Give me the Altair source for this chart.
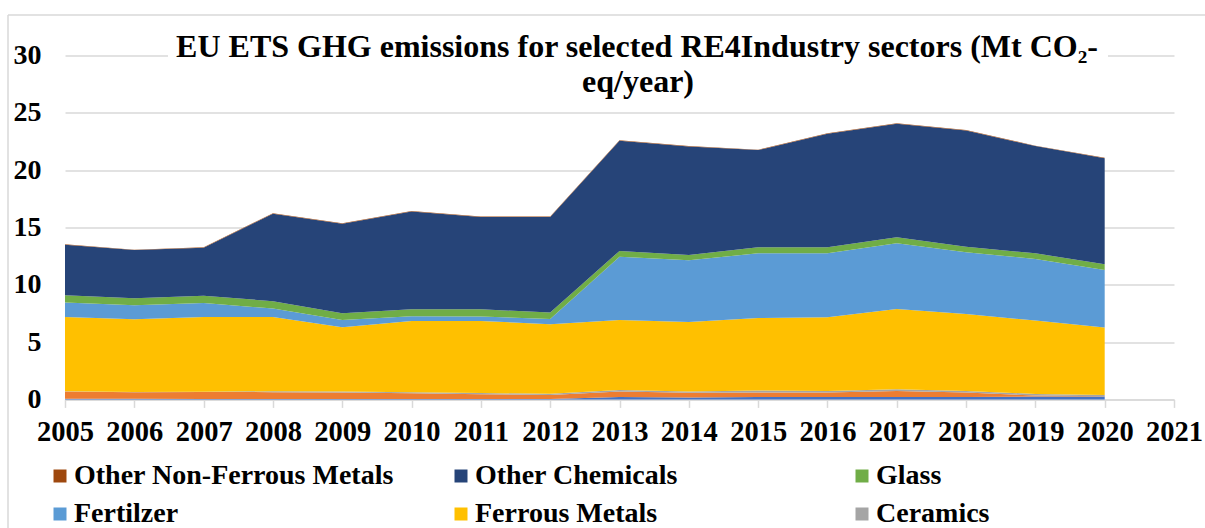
import altair as alt
import pandas as pd

# ---- data (Mt CO2-eq per year), stacked bottom to top ----
years = list(range(2005, 2021))

aluminium = [0.05, 0.05, 0.03, 0.03, 0.03, 0.03, 0.03, 0.03,
             0.20, 0.16, 0.20, 0.20, 0.20, 0.20, 0.25, 0.25]
copper = [0.63, 0.58, 0.62, 0.60, 0.57, 0.51, 0.42, 0.36,
          0.48, 0.41, 0.40, 0.40, 0.54, 0.40, 0.08, 0.02]
ceramics = [0.02, 0.02, 0.02, 0.08, 0.08, 0.08, 0.10, 0.10,
            0.15, 0.11, 0.17, 0.14, 0.15, 0.14, 0.15, 0.12]
ferrous_metals = [6.49, 6.34, 6.52, 6.48, 5.61, 6.22, 6.29, 6.06,
                  6.10, 6.08, 6.33, 6.42, 7.00, 6.71, 6.39, 5.87]
fertilizer = [1.25, 1.22, 1.22, 0.73, 0.64, 0.41, 0.38, 0.47,
              5.52, 5.37, 5.64, 5.58, 5.73, 5.38, 5.38, 5.03]
glass = [0.64, 0.61, 0.64, 0.64, 0.59, 0.61, 0.64, 0.55,
         0.50, 0.47, 0.53, 0.53, 0.52, 0.49, 0.49, 0.50]
other_chemicals = [4.41, 4.20, 4.18, 7.63, 7.80, 8.53, 8.04, 8.33,
                   9.61, 9.46, 8.47, 9.89, 9.90, 10.14, 9.35, 9.25]
other_non_ferrous = [0.04] * 16

sectors = ["Aluminium", "Copper", "Ceramics", "Ferrous Metals", "Fertilzer",
           "Glass", "Other Chemicals", "Other Non-Ferrous Metals"]
series = [aluminium, copper, ceramics, ferrous_metals, fertilizer,
          glass, other_chemicals, other_non_ferrous]
colors = ["#4472C4", "#ED7D31", "#A5A5A5", "#FFC000", "#5B9BD5",
          "#70AD47", "#264478", "#9E480E"]
legend_entries = ["Other Non-Ferrous Metals", "Other Chemicals", "Glass",
                  "Fertilzer", "Ferrous Metals", "Ceramics"]

x_ticks = list(range(2005, 2022))
y_ticks = [0, 5, 10, 15, 20, 25, 30]
title_lines = ["EU ETS GHG emissions for selected RE4Industry sectors (Mt CO\u2082-",
               "eq/year)"]

rows = []
for i, (name, vals) in enumerate(zip(sectors, series)):
    for yr, v in zip(years, vals):
        rows.append({"year": yr, "sector": name, "value": v, "layer": i})
df = pd.DataFrame(rows)

FONT = "Liberation Serif"
GRID = "#D9D9D9"
W, H = 1109, 344

areas = alt.Chart(df).mark_area(strokeWidth=0, opacity=1).encode(
    x=alt.X("year:Q",
            scale=alt.Scale(domain=[2005, 2021], nice=False, zero=False),
            axis=alt.Axis(values=x_ticks, format="d", title=None, grid=False,
                          labelFont=FONT, labelFontSize=28.5, labelFontWeight="bold",
                          labelColor="black", labelPadding=10, labelFlush=False,
                          tickSize=8, tickColor=GRID, tickWidth=1.5,
                          domainColor=GRID, domainWidth=1.5)),
    y=alt.Y("value:Q", stack="zero",
            scale=alt.Scale(domain=[0, 30], nice=False),
            axis=alt.Axis(values=y_ticks, title=None, grid=True, gridColor=GRID,
                          gridWidth=1.5, domain=False, ticks=False,
                          labelFont=FONT, labelFontSize=28, labelFontWeight="bold",
                          labelColor="black", labelPadding=24)),
    color=alt.Color("sector:N",
                    scale=alt.Scale(domain=sectors, range=colors),
                    legend=alt.Legend(values=legend_entries, title=None, orient="none",
                                      legendX=-19, legendY=406.6, direction="horizontal",
                                      columns=3, gridAlign="all", columnPadding=53,
                                      rowPadding=10, symbolType="square", symbolSize=169,
                                      symbolStrokeWidth=0, symbolOpacity=1,
                                      labelFont=FONT, labelFontSize=28,
                                      labelFontWeight="bold", labelColor="black",
                                      labelOffset=0, labelLimit=600, padding=0)),
    order=alt.Order("layer:Q", sort="ascending"),
)

one = pd.DataFrame({"k": [0]})

# white box behind the overlaid title
title_box = alt.Chart(one).mark_rect(color="white").encode(
    x=alt.value(103), x2=alt.value(1043), y=alt.value(-30), y2=alt.value(45))

title_1 = alt.Chart(pd.DataFrame({"t": [title_lines[0]]})).mark_text(
    font=FONT, fontSize=32, fontWeight="bold", color="black",
    align="center", baseline="alphabetic").encode(
    text="t:N", x=alt.value(572), y=alt.value(1.3))

title_2 = alt.Chart(pd.DataFrame({"t": [title_lines[1]]})).mark_text(
    font=FONT, fontSize=32, fontWeight="bold", color="black",
    align="center", baseline="alphabetic").encode(
    text="t:N", x=alt.value(573), y=alt.value(36.3))

# chart-area frame (top and left edges)
frame_top = alt.Chart(one).mark_rule(color=GRID, strokeWidth=1.5).encode(
    x=alt.value(-57), x2=alt.value(1140), y=alt.value(-40.4))
frame_left = alt.Chart(one).mark_rule(color=GRID, strokeWidth=1.5).encode(
    x=alt.value(-57), y=alt.value(-40.4), y2=alt.value(473))

chart = alt.layer(areas, title_box, title_1, title_2, frame_top, frame_left).properties(
    width=W, height=H,
    autosize=alt.AutoSizeParams(type="none"),
    padding={"left": 65, "top": 55.4, "right": 31, "bottom": 128.6},
    background="white",
).configure_view(stroke=None)

chart.save("out.html", embed_options={"renderer": "svg", "actions": False})
